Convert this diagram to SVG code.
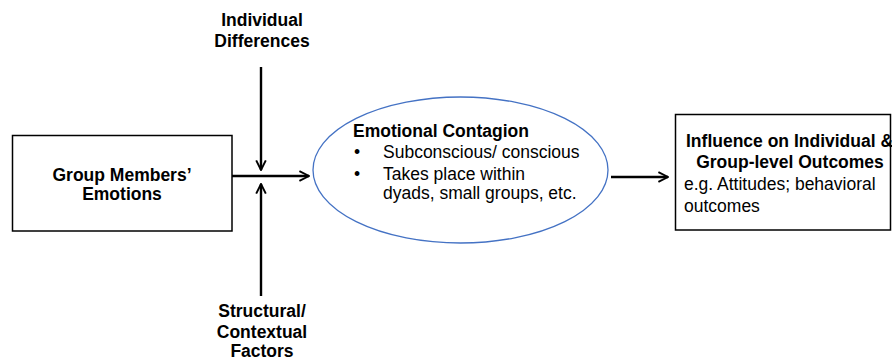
<svg xmlns="http://www.w3.org/2000/svg" width="892" height="362" viewBox="0 0 892 362">
<style>
text{font-family:"Liberation Sans",Arial,sans-serif;font-size:17.5px;fill:#000}
.b{font-weight:bold}
.c{text-anchor:middle}
.box{fill:#fff;stroke:#000;stroke-width:1.5}
.ln{stroke:#000;stroke-width:2.4;fill:none}
</style>
<defs>
<marker id="ah" viewBox="0 0 10 10" refX="9" refY="5" markerWidth="5" markerHeight="5" orient="auto" markerUnits="strokeWidth">
<path d="M1,1 L9,5 L1,9" fill="none" stroke="#000" stroke-width="1.6"/>
</marker>
</defs>
<rect width="892" height="362" fill="#fff"/>
<g id="connectors">
<line class="ln" x1="232" y1="176" x2="309" y2="176" marker-end="url(#ah)"/>
<line class="ln" x1="261" y1="67" x2="261" y2="170" marker-end="url(#ah)"/>
<line class="ln" x1="261" y1="296" x2="261" y2="184" marker-end="url(#ah)"/>
<line class="ln" x1="611" y1="177" x2="668" y2="177" marker-end="url(#ah)"/>
</g>
<g id="group-members-emotions">
<rect class="box" x="12.5" y="135.5" width="219.5" height="95.5"/>
<text class="b c" x="122" y="181">Group Members’</text>
<text class="b c" x="122" y="200">Emotions</text>
</g>
<g id="individual-differences">
<text class="b c" x="262" y="26">Individual</text>
<text class="b c" x="262" y="47">Differences</text>
</g>
<g id="structural-factors">
<text class="b c" x="262" y="317">Structural/</text>
<text class="b c" x="262" y="338">Contextual</text>
<text class="b c" x="262" y="357">Factors</text>
</g>
<g id="emotional-contagion">
<ellipse cx="460.5" cy="170" rx="147.5" ry="73" fill="#fff" stroke="#4472c4" stroke-width="1.3"/>
<text class="b" x="353" y="137">Emotional Contagion</text>
<text x="354" y="158">•</text>
<text x="383" y="158">Subconscious/ conscious</text>
<text x="354" y="180">•</text>
<text x="383" y="180">Takes place within</text>
<text x="383" y="199">dyads, small groups, etc.</text>
</g>
<g id="outcomes">
<rect class="box" x="675.5" y="114.5" width="215" height="115.5"/>
<text class="b" x="686" y="147">Influence on Individual &amp;</text>
<text class="b c" x="790" y="168">Group-level Outcomes</text>
<text x="684" y="190">e.g. Attitudes; behavioral</text>
<text x="684" y="212">outcomes</text>
</g>
</svg>
